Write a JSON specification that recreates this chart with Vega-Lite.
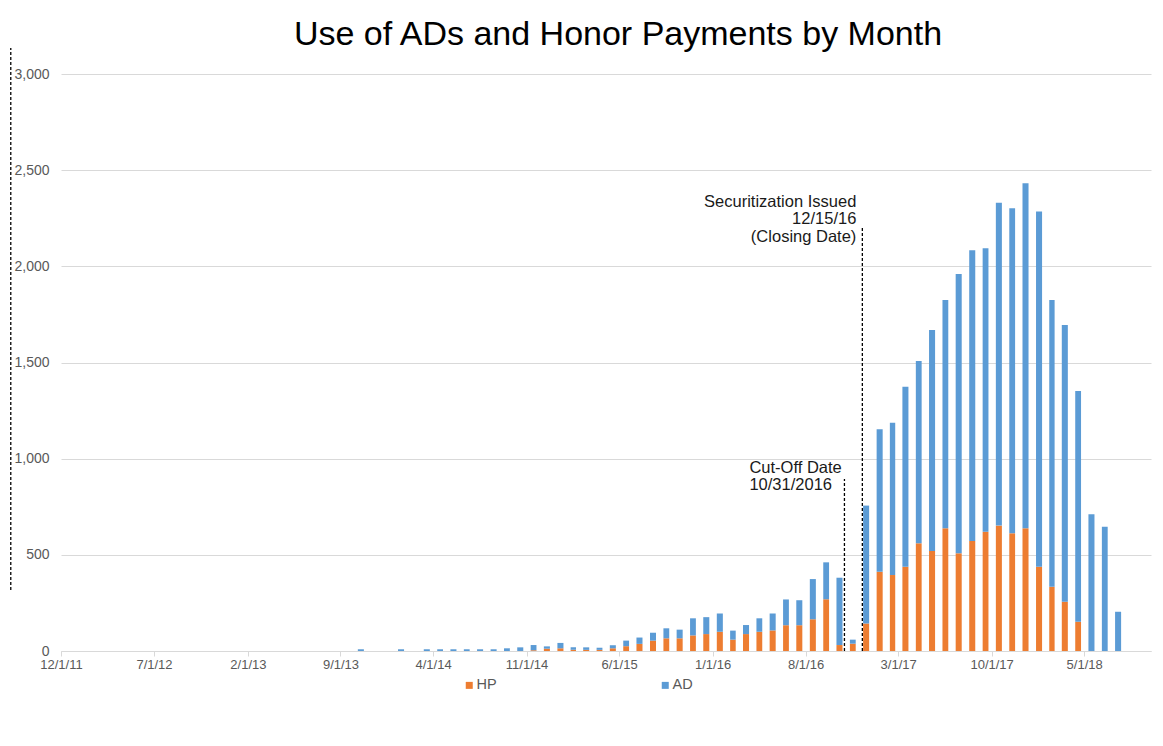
{
  "$schema": "https://vega.github.io/schema/vega-lite/v6.json",
  "width": 1090,
  "height": 577,
  "autosize": "none",
  "padding": {"left": 61, "top": 74, "right": 12, "bottom": 95},
  "background": "white",
  "title": {
    "text": "Use of ADs and Honor Payments by Month",
    "font": "Liberation Sans",
    "fontSize": 34,
    "fontWeight": "normal",
    "color": "#000000",
    "anchor": "middle",
    "frame": "group",
    "baseline": "alphabetic",
    "offset": -32,
    "dx": 12
  },
  "config": {
    "view": {"stroke": null},
    "font": "Liberation Sans",
    "axisX": {
      "labelFontSize": 13,
      "labelColor": "#595959",
      "labelPadding": 2,
      "labelOverlap": false,
      "labelFlush": false,
      "tickColor": "#D9D9D9",
      "tickSize": 5,
      "domainColor": "#D9D9D9",
      "grid": false
    },
    "axisY": {
      "domain": false,
      "ticks": false,
      "labelPadding": 12,
      "labelFontSize": 14,
      "labelColor": "#595959",
      "gridColor": "#D9D9D9"
    }
  },
  "layer": [
    {
      "data": {
        "values": [
          {"month": "2013-10-01", "HP": 0, "AD": 9},
          {"month": "2014-01-01", "HP": 0, "AD": 9},
          {"month": "2014-03-01", "HP": 0, "AD": 9},
          {"month": "2014-04-01", "HP": 0, "AD": 9},
          {"month": "2014-05-01", "HP": 0, "AD": 9},
          {"month": "2014-06-01", "HP": 0, "AD": 9},
          {"month": "2014-07-01", "HP": 0, "AD": 9},
          {"month": "2014-08-01", "HP": 0, "AD": 9},
          {"month": "2014-09-01", "HP": 0, "AD": 14},
          {"month": "2014-10-01", "HP": 0, "AD": 19},
          {"month": "2014-11-01", "HP": 4, "AD": 27},
          {"month": "2014-12-01", "HP": 12, "AD": 12},
          {"month": "2015-01-01", "HP": 14, "AD": 28},
          {"month": "2015-02-01", "HP": 6, "AD": 13},
          {"month": "2015-03-01", "HP": 6, "AD": 13},
          {"month": "2015-04-01", "HP": 6, "AD": 11},
          {"month": "2015-05-01", "HP": 14, "AD": 16},
          {"month": "2015-06-01", "HP": 25, "AD": 29},
          {"month": "2015-07-01", "HP": 37, "AD": 33},
          {"month": "2015-08-01", "HP": 54, "AD": 41},
          {"month": "2015-09-01", "HP": 66, "AD": 52},
          {"month": "2015-10-01", "HP": 66, "AD": 45},
          {"month": "2015-11-01", "HP": 81, "AD": 89},
          {"month": "2015-12-01", "HP": 88, "AD": 88},
          {"month": "2016-01-01", "HP": 100, "AD": 95},
          {"month": "2016-02-01", "HP": 59, "AD": 47},
          {"month": "2016-03-01", "HP": 88, "AD": 47},
          {"month": "2016-04-01", "HP": 100, "AD": 70},
          {"month": "2016-05-01", "HP": 107, "AD": 88},
          {"month": "2016-06-01", "HP": 134, "AD": 134},
          {"month": "2016-07-01", "HP": 134, "AD": 130},
          {"month": "2016-08-01", "HP": 165, "AD": 209},
          {"month": "2016-09-01", "HP": 269, "AD": 192},
          {"month": "2016-10-01", "HP": 31, "AD": 350},
          {"month": "2016-11-01", "HP": 38, "AD": 21},
          {"month": "2016-12-01", "HP": 143, "AD": 613},
          {"month": "2017-01-01", "HP": 412, "AD": 741},
          {"month": "2017-02-01", "HP": 395, "AD": 792},
          {"month": "2017-03-01", "HP": 438, "AD": 936},
          {"month": "2017-04-01", "HP": 560, "AD": 948},
          {"month": "2017-05-01", "HP": 520, "AD": 1149},
          {"month": "2017-06-01", "HP": 638, "AD": 1187},
          {"month": "2017-07-01", "HP": 508, "AD": 1452},
          {"month": "2017-08-01", "HP": 572, "AD": 1511},
          {"month": "2017-09-01", "HP": 620, "AD": 1474},
          {"month": "2017-10-01", "HP": 652, "AD": 1679},
          {"month": "2017-11-01", "HP": 612, "AD": 1690},
          {"month": "2017-12-01", "HP": 638, "AD": 1794},
          {"month": "2018-01-01", "HP": 438, "AD": 1847},
          {"month": "2018-02-01", "HP": 334, "AD": 1491},
          {"month": "2018-03-01", "HP": 256, "AD": 1439},
          {"month": "2018-04-01", "HP": 152, "AD": 1200},
          {"month": "2018-05-01", "HP": 0, "AD": 711},
          {"month": "2018-06-01", "HP": 0, "AD": 646},
          {"month": "2018-07-01", "HP": 0, "AD": 204}
        ]
      },
      "transform": [{"fold": ["HP", "AD"], "as": ["series", "count"]}],
      "mark": {"type": "bar", "width": {"band": 0.52}},
      "encoding": {
        "x": {
          "field": "month",
          "type": "temporal",
          "timeUnit": "utcyearmonth",
          "title": null,
          "scale": {
            "domain": [
              {"year": 2011, "month": 12, "date": 1, "utc": true},
              {"year": 2018, "month": 10, "date": 1, "utc": true}
            ]
          },
          "axis": {
            "values": [
              {"year": 2011, "month": 12, "date": 1, "utc": true},
              {"year": 2012, "month": 7, "date": 1, "utc": true},
              {"year": 2013, "month": 2, "date": 1, "utc": true},
              {"year": 2013, "month": 9, "date": 1, "utc": true},
              {"year": 2014, "month": 4, "date": 1, "utc": true},
              {"year": 2014, "month": 11, "date": 1, "utc": true},
              {"year": 2015, "month": 6, "date": 1, "utc": true},
              {"year": 2016, "month": 1, "date": 1, "utc": true},
              {"year": 2016, "month": 8, "date": 1, "utc": true},
              {"year": 2017, "month": 3, "date": 1, "utc": true},
              {"year": 2017, "month": 10, "date": 1, "utc": true},
              {"year": 2018, "month": 5, "date": 1, "utc": true}
            ],
            "labelExpr": "utcFormat(datum.value, '%-m/%-d/%y')"
          }
        },
        "y": {
          "field": "count",
          "type": "quantitative",
          "stack": "zero",
          "title": null,
          "scale": {"domain": [0, 3000], "nice": false},
          "axis": {"values": [0, 500, 1000, 1500, 2000, 2500, 3000], "format": ",.0f"}
        },
        "color": {
          "field": "series",
          "type": "nominal",
          "sort": ["HP", "AD"],
          "scale": {"domain": ["HP", "AD"], "range": ["#ED7D31", "#5B9BD5"]},
          "legend": {
            "orient": "none",
            "legendX": 401,
            "legendY": 604,
            "direction": "horizontal",
            "title": null,
            "symbolType": "square",
            "symbolSize": 49,
            "symbolStrokeWidth": 0,
            "labelFontSize": 14.5,
            "labelColor": "#595959",
            "labelOffset": 0,
            "columnPadding": 161
          }
        },
        "order": {"field": "series", "sort": "descending"}
      }
    },
    {
      "data": {
        "values": [
          {"d": "2016-10-29", "y0": 0, "y1": 894},
          {"d": "2016-12-09", "y0": 0, "y1": 2200},
          {"d": "2011-08-08", "y0": 317, "y1": 3135}
        ]
      },
      "mark": {"type": "rule", "color": "#000000", "strokeDash": [3, 2], "strokeWidth": 1.3},
      "encoding": {
        "x": {
          "field": "d", "type": "temporal", "timeUnit": "utcyearmonthdate", "title": null,
          "axis": {
            "values": [
              {"year": 2011, "month": 12, "date": 1, "utc": true},
              {"year": 2012, "month": 7, "date": 1, "utc": true},
              {"year": 2013, "month": 2, "date": 1, "utc": true},
              {"year": 2013, "month": 9, "date": 1, "utc": true},
              {"year": 2014, "month": 4, "date": 1, "utc": true},
              {"year": 2014, "month": 11, "date": 1, "utc": true},
              {"year": 2015, "month": 6, "date": 1, "utc": true},
              {"year": 2016, "month": 1, "date": 1, "utc": true},
              {"year": 2016, "month": 8, "date": 1, "utc": true},
              {"year": 2017, "month": 3, "date": 1, "utc": true},
              {"year": 2017, "month": 10, "date": 1, "utc": true},
              {"year": 2018, "month": 5, "date": 1, "utc": true}
            ],
            "labelExpr": "utcFormat(datum.value, '%-m/%-d/%y')"
          }
        },
        "y": {
          "field": "y0", "type": "quantitative", "title": null,
          "axis": {"values": [0, 500, 1000, 1500, 2000, 2500, 3000], "format": ",.0f"}
        },
        "y2": {"field": "y1"}
      }
    },
    {
      "data": {"values": [{"d": "2016-10-29", "y": 894, "t": "Cut-Off Date\n10/31/2016"}]},
      "mark": {"type": "text", "align": "left", "baseline": "alphabetic", "dx": -95, "dy": -6, "lineBreak": "\n", "lineHeight": 17, "fontSize": 16.5, "color": "#1a1a1a"},
      "encoding": {
        "x": {
          "field": "d", "type": "temporal", "timeUnit": "utcyearmonthdate", "title": null,
          "axis": {
            "values": [
              {"year": 2011, "month": 12, "date": 1, "utc": true},
              {"year": 2012, "month": 7, "date": 1, "utc": true},
              {"year": 2013, "month": 2, "date": 1, "utc": true},
              {"year": 2013, "month": 9, "date": 1, "utc": true},
              {"year": 2014, "month": 4, "date": 1, "utc": true},
              {"year": 2014, "month": 11, "date": 1, "utc": true},
              {"year": 2015, "month": 6, "date": 1, "utc": true},
              {"year": 2016, "month": 1, "date": 1, "utc": true},
              {"year": 2016, "month": 8, "date": 1, "utc": true},
              {"year": 2017, "month": 3, "date": 1, "utc": true},
              {"year": 2017, "month": 10, "date": 1, "utc": true},
              {"year": 2018, "month": 5, "date": 1, "utc": true}
            ],
            "labelExpr": "utcFormat(datum.value, '%-m/%-d/%y')"
          }
        },
        "y": {
          "field": "y", "type": "quantitative", "title": null,
          "axis": {"values": [0, 500, 1000, 1500, 2000, 2500, 3000], "format": ",.0f"}
        },
        "text": {"field": "t"}
      }
    },
    {
      "data": {"values": [{"d": "2016-12-09", "y": 2200, "t": "Securitization Issued\n12/15/16\n(Closing Date)"}]},
      "mark": {"type": "text", "align": "right", "baseline": "alphabetic", "dx": -6, "dy": -21, "lineBreak": "\n", "lineHeight": 17.5, "fontSize": 16.5, "color": "#1a1a1a"},
      "encoding": {
        "x": {
          "field": "d", "type": "temporal", "timeUnit": "utcyearmonthdate", "title": null,
          "axis": {
            "values": [
              {"year": 2011, "month": 12, "date": 1, "utc": true},
              {"year": 2012, "month": 7, "date": 1, "utc": true},
              {"year": 2013, "month": 2, "date": 1, "utc": true},
              {"year": 2013, "month": 9, "date": 1, "utc": true},
              {"year": 2014, "month": 4, "date": 1, "utc": true},
              {"year": 2014, "month": 11, "date": 1, "utc": true},
              {"year": 2015, "month": 6, "date": 1, "utc": true},
              {"year": 2016, "month": 1, "date": 1, "utc": true},
              {"year": 2016, "month": 8, "date": 1, "utc": true},
              {"year": 2017, "month": 3, "date": 1, "utc": true},
              {"year": 2017, "month": 10, "date": 1, "utc": true},
              {"year": 2018, "month": 5, "date": 1, "utc": true}
            ],
            "labelExpr": "utcFormat(datum.value, '%-m/%-d/%y')"
          }
        },
        "y": {
          "field": "y", "type": "quantitative", "title": null,
          "axis": {"values": [0, 500, 1000, 1500, 2000, 2500, 3000], "format": ",.0f"}
        },
        "text": {"field": "t"}
      }
    }
  ]
}
